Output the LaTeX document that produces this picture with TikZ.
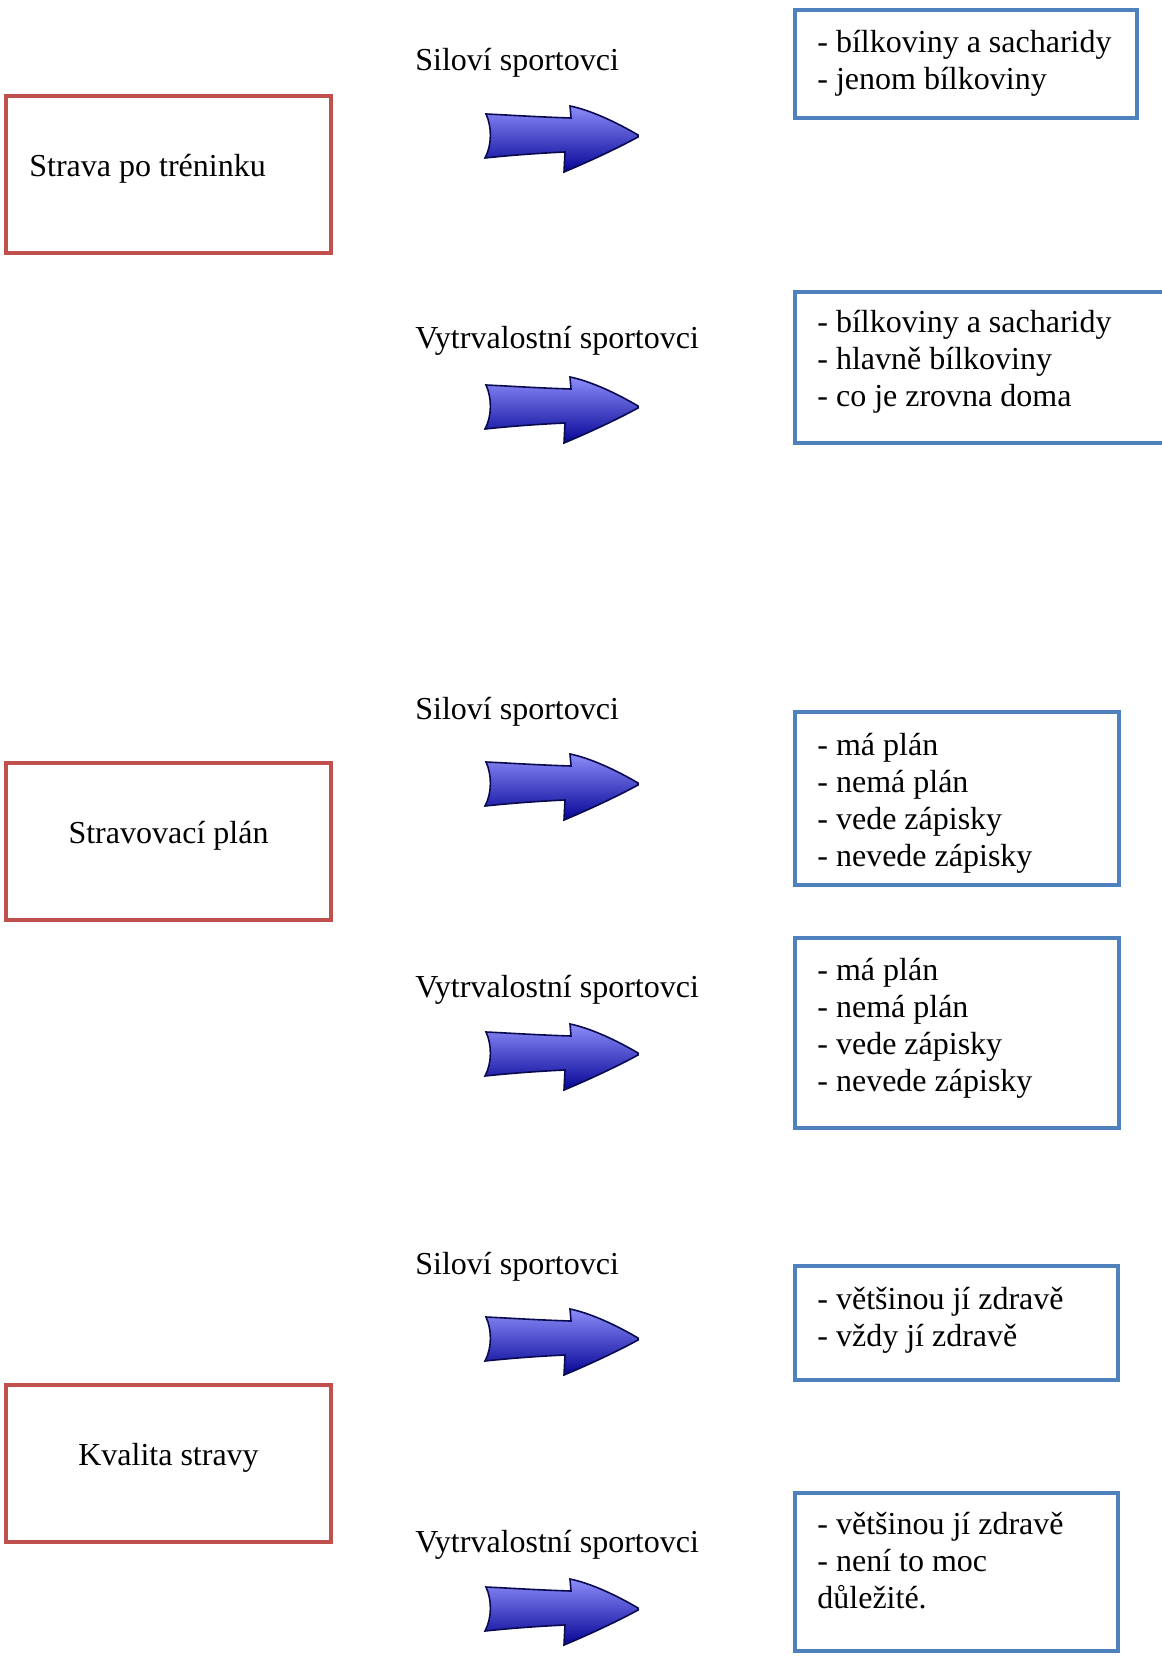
\documentclass[tikz,border=0pt]{standalone}
\usepackage{fontspec}
\setmainfont{Liberation Serif}
\definecolor{boxred}{RGB}{192,80,77}
\definecolor{boxblue}{RGB}{79,129,189}
\definecolor{arrowdark}{RGB}{10,10,80}

\tikzset{
  redbox/.style={draw=boxred,line width=2pt,minimum width=162.5pt,minimum height=78.5pt,inner sep=0pt},
  bluebox/.style={draw=boxblue,line width=2pt,inner sep=0pt},
  txt/.style={font=\fontsize{16}{18.5}\selectfont,inner sep=0pt,align=left},
  pics/sipka/.style={code={
    \draw[arrowdark,line width=0.8pt,top color={rgb,255:red,140;green,140;blue,250},
      middle color={rgb,255:red,20;green,20;blue,200},bottom color={rgb,255:red,5;green,5;blue,150}]
      (0,0) .. controls (-22,-13) and (-48,-25) .. (-68,-29) -- (-67,-17)
      .. controls (-100,-18) and (-130,-20) .. (-152,-21)
      .. controls (-146,-8) and (-146,10) .. (-153,23)
      .. controls (-125,20) and (-95,18) .. (-73,17) -- (-74,37)
      .. controls (-50,27) and (-20,13) .. (0,2) -- cycle;
  }}
}

\begin{document}
\begin{tikzpicture}[x=0.5pt,y=-0.5pt]
\useasboundingbox (0,0) rectangle (1161,1657);

% red boxes
\node[redbox] (trenink) at (168.5,174.5) {};
\node[txt,anchor=base west] (trenink text) at (29,177) {Strava po tréninku};
\node[redbox] (plan) at (168.5,841) {};
\node[txt,anchor=base] (plan text) at (168.5,843) {Stravovací plán};
\node[redbox] (kvalita) at (168.5,1463) {};
\node[txt,anchor=base] (kvalita text) at (168.5,1465) {Kvalita stravy};

% labels
\node[txt,anchor=base west] (sil1) at (415,71) {Siloví sportovci};
\node[txt,anchor=base west] (vyt1) at (415,349) {Vytrvalostní sportovci};
\node[txt,anchor=base west] (sil2) at (415,719) {Siloví sportovci};
\node[txt,anchor=base west] (vyt2) at (415,997) {Vytrvalostní sportovci};
\node[txt,anchor=base west] (sil3) at (415,1274) {Siloví sportovci};
\node[txt,anchor=base west] (vyt3) at (415,1552) {Vytrvalostní sportovci};

% arrows
\pic at (638,135) {sipka};
\pic at (638,406) {sipka};
\pic at (638,783) {sipka};
\pic at (638,1053) {sipka};
\pic at (638,1338) {sipka};
\pic at (638,1608) {sipka};

% blue boxes (text anchored at the last line)
\node[bluebox,minimum width=171pt,minimum height=54pt] (odp1) at (966,64) {};
\node[txt,anchor=base west] (odp1 text) at (817,90) {- bílkoviny a sacharidy\\- jenom bílkoviny};
\node[bluebox,minimum width=190pt,minimum height=75.5pt] (odp2) at (985,367.5) {};
\node[txt,anchor=base west] (odp2 text) at (817,407) {- bílkoviny a sacharidy\\- hlavně bílkoviny\\- co je zrovna doma};
\node[bluebox,minimum width=162pt,minimum height=86.5pt] (odp3) at (957,798.5) {};
\node[txt,anchor=base west] (odp3 text) at (817,866) {- má plán\\- nemá plán\\- vede zápisky\\- nevede zápisky};
\node[bluebox,minimum width=162pt,minimum height=95pt] (odp4) at (957,1033) {};
\node[txt,anchor=base west] (odp4 text) at (817,1091) {- má plán\\- nemá plán\\- vede zápisky\\- nevede zápisky};
\node[bluebox,minimum width=161.5pt,minimum height=57pt] (odp5) at (956.5,1323) {};
\node[txt,anchor=base west] (odp5 text) at (817,1346) {- většinou jí zdravě\\- vždy jí zdravě};
\node[bluebox,minimum width=161.5pt,minimum height=79pt] (odp6) at (956.5,1572) {};
\node[txt,anchor=base west] (odp6 text) at (817,1608) {- většinou jí zdravě\\- není to moc\\důležité.};

\end{tikzpicture}
\end{document}
